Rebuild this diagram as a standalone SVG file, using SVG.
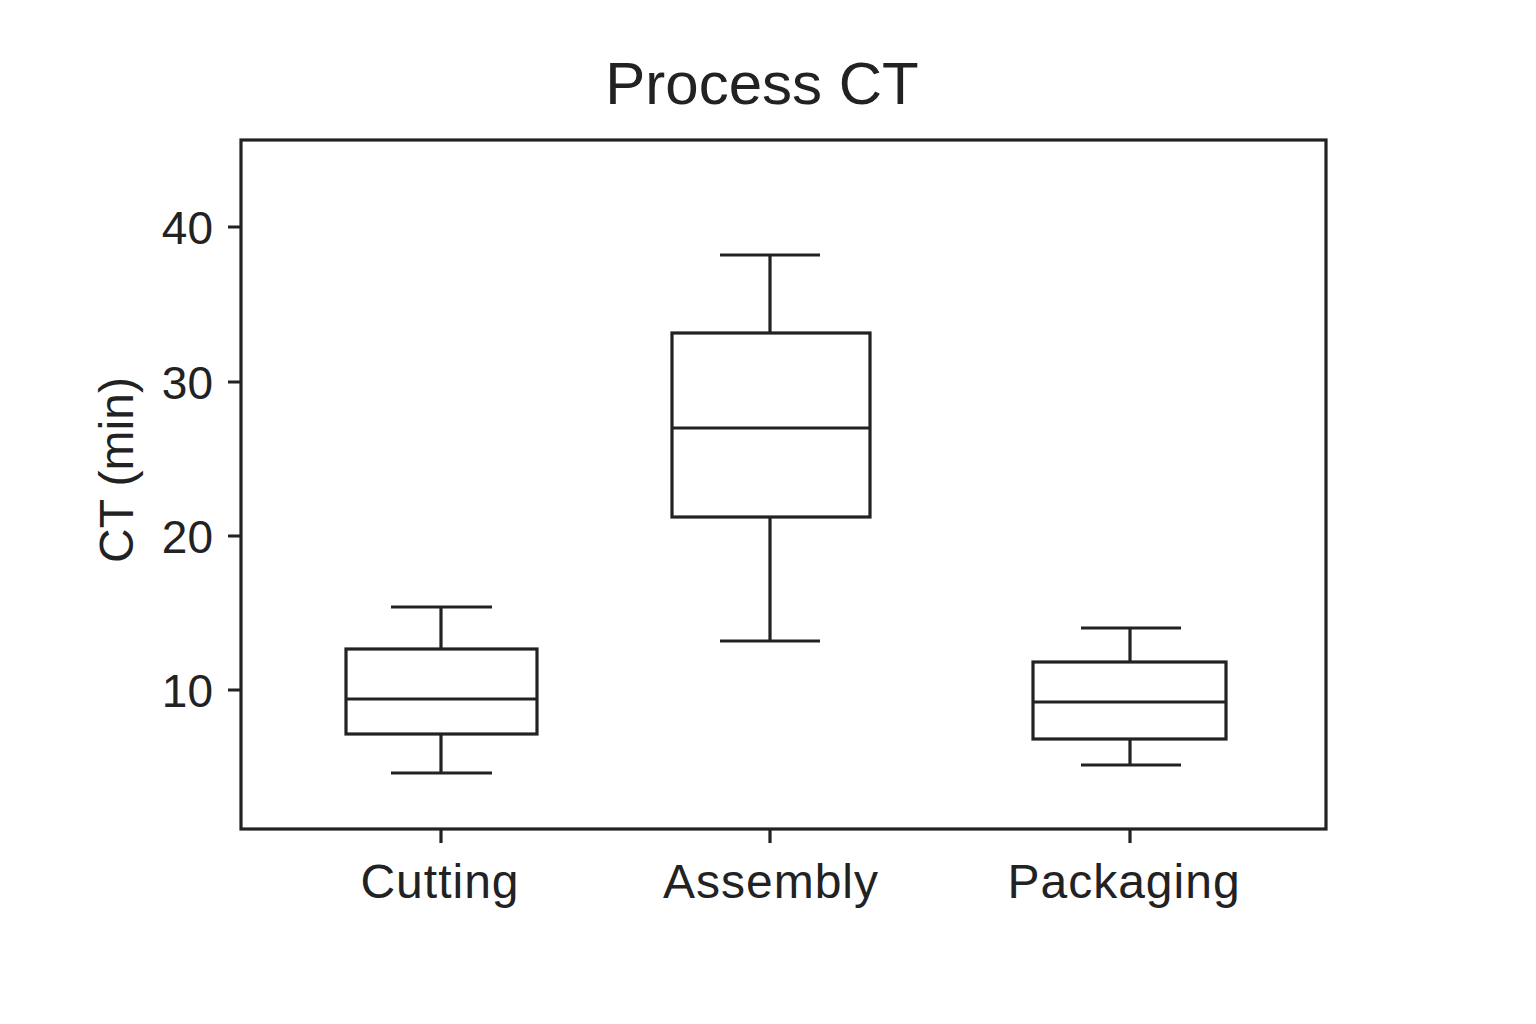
<svg xmlns="http://www.w3.org/2000/svg" width="1536" height="1024" viewBox="0 0 1536 1024">
<style>
text{font-family:"Liberation Sans","Noto Sans",sans-serif;fill:#222}
.ln{stroke:#222;stroke-width:3.2;fill:none}
.tk{font-size:46px;text-anchor:end}
.cat{font-size:48px;text-anchor:middle;letter-spacing:1px}
</style>
<rect width="1536" height="1024" fill="#fff"/>
<text x="762" y="104" font-size="60" text-anchor="middle">Process CT</text>
<g id="axes">
<rect class="ln" x="241" y="140" width="1085" height="689"/>
<path class="ln" d="M228 227H241M228 382H241M228 536H241M228 690H241M441 829V843M770 829V843M1130 829V843"/>
<text class="tk" x="213" y="244">40</text>
<text class="tk" x="213" y="399">30</text>
<text class="tk" x="213" y="553">20</text>
<text class="tk" x="213" y="707">10</text>
<text font-size="48" text-anchor="middle" transform="translate(133 470) rotate(-90)">CT (min)</text>
<text class="cat" x="440" y="898">Cutting</text>
<text class="cat" x="771" y="898">Assembly</text>
<text class="cat" x="1124" y="898">Packaging</text>
</g>
<g id="cutting">
<rect class="ln" x="346" y="649" width="191" height="85"/>
<path class="ln" d="M346 699H537M441 649V607M441 734V773M391 607H492M391 773H492"/>
</g>
<g id="assembly">
<rect class="ln" x="672" y="333" width="198" height="184"/>
<path class="ln" d="M672 428H870M770 333V255M770 517V641M720 255H820M720 641H820"/>
</g>
<g id="packaging">
<rect class="ln" x="1033" y="662" width="193" height="77"/>
<path class="ln" d="M1033 702H1226M1130 662V628M1130 739V765M1081 628H1181M1081 765H1181"/>
</g>
</svg>
